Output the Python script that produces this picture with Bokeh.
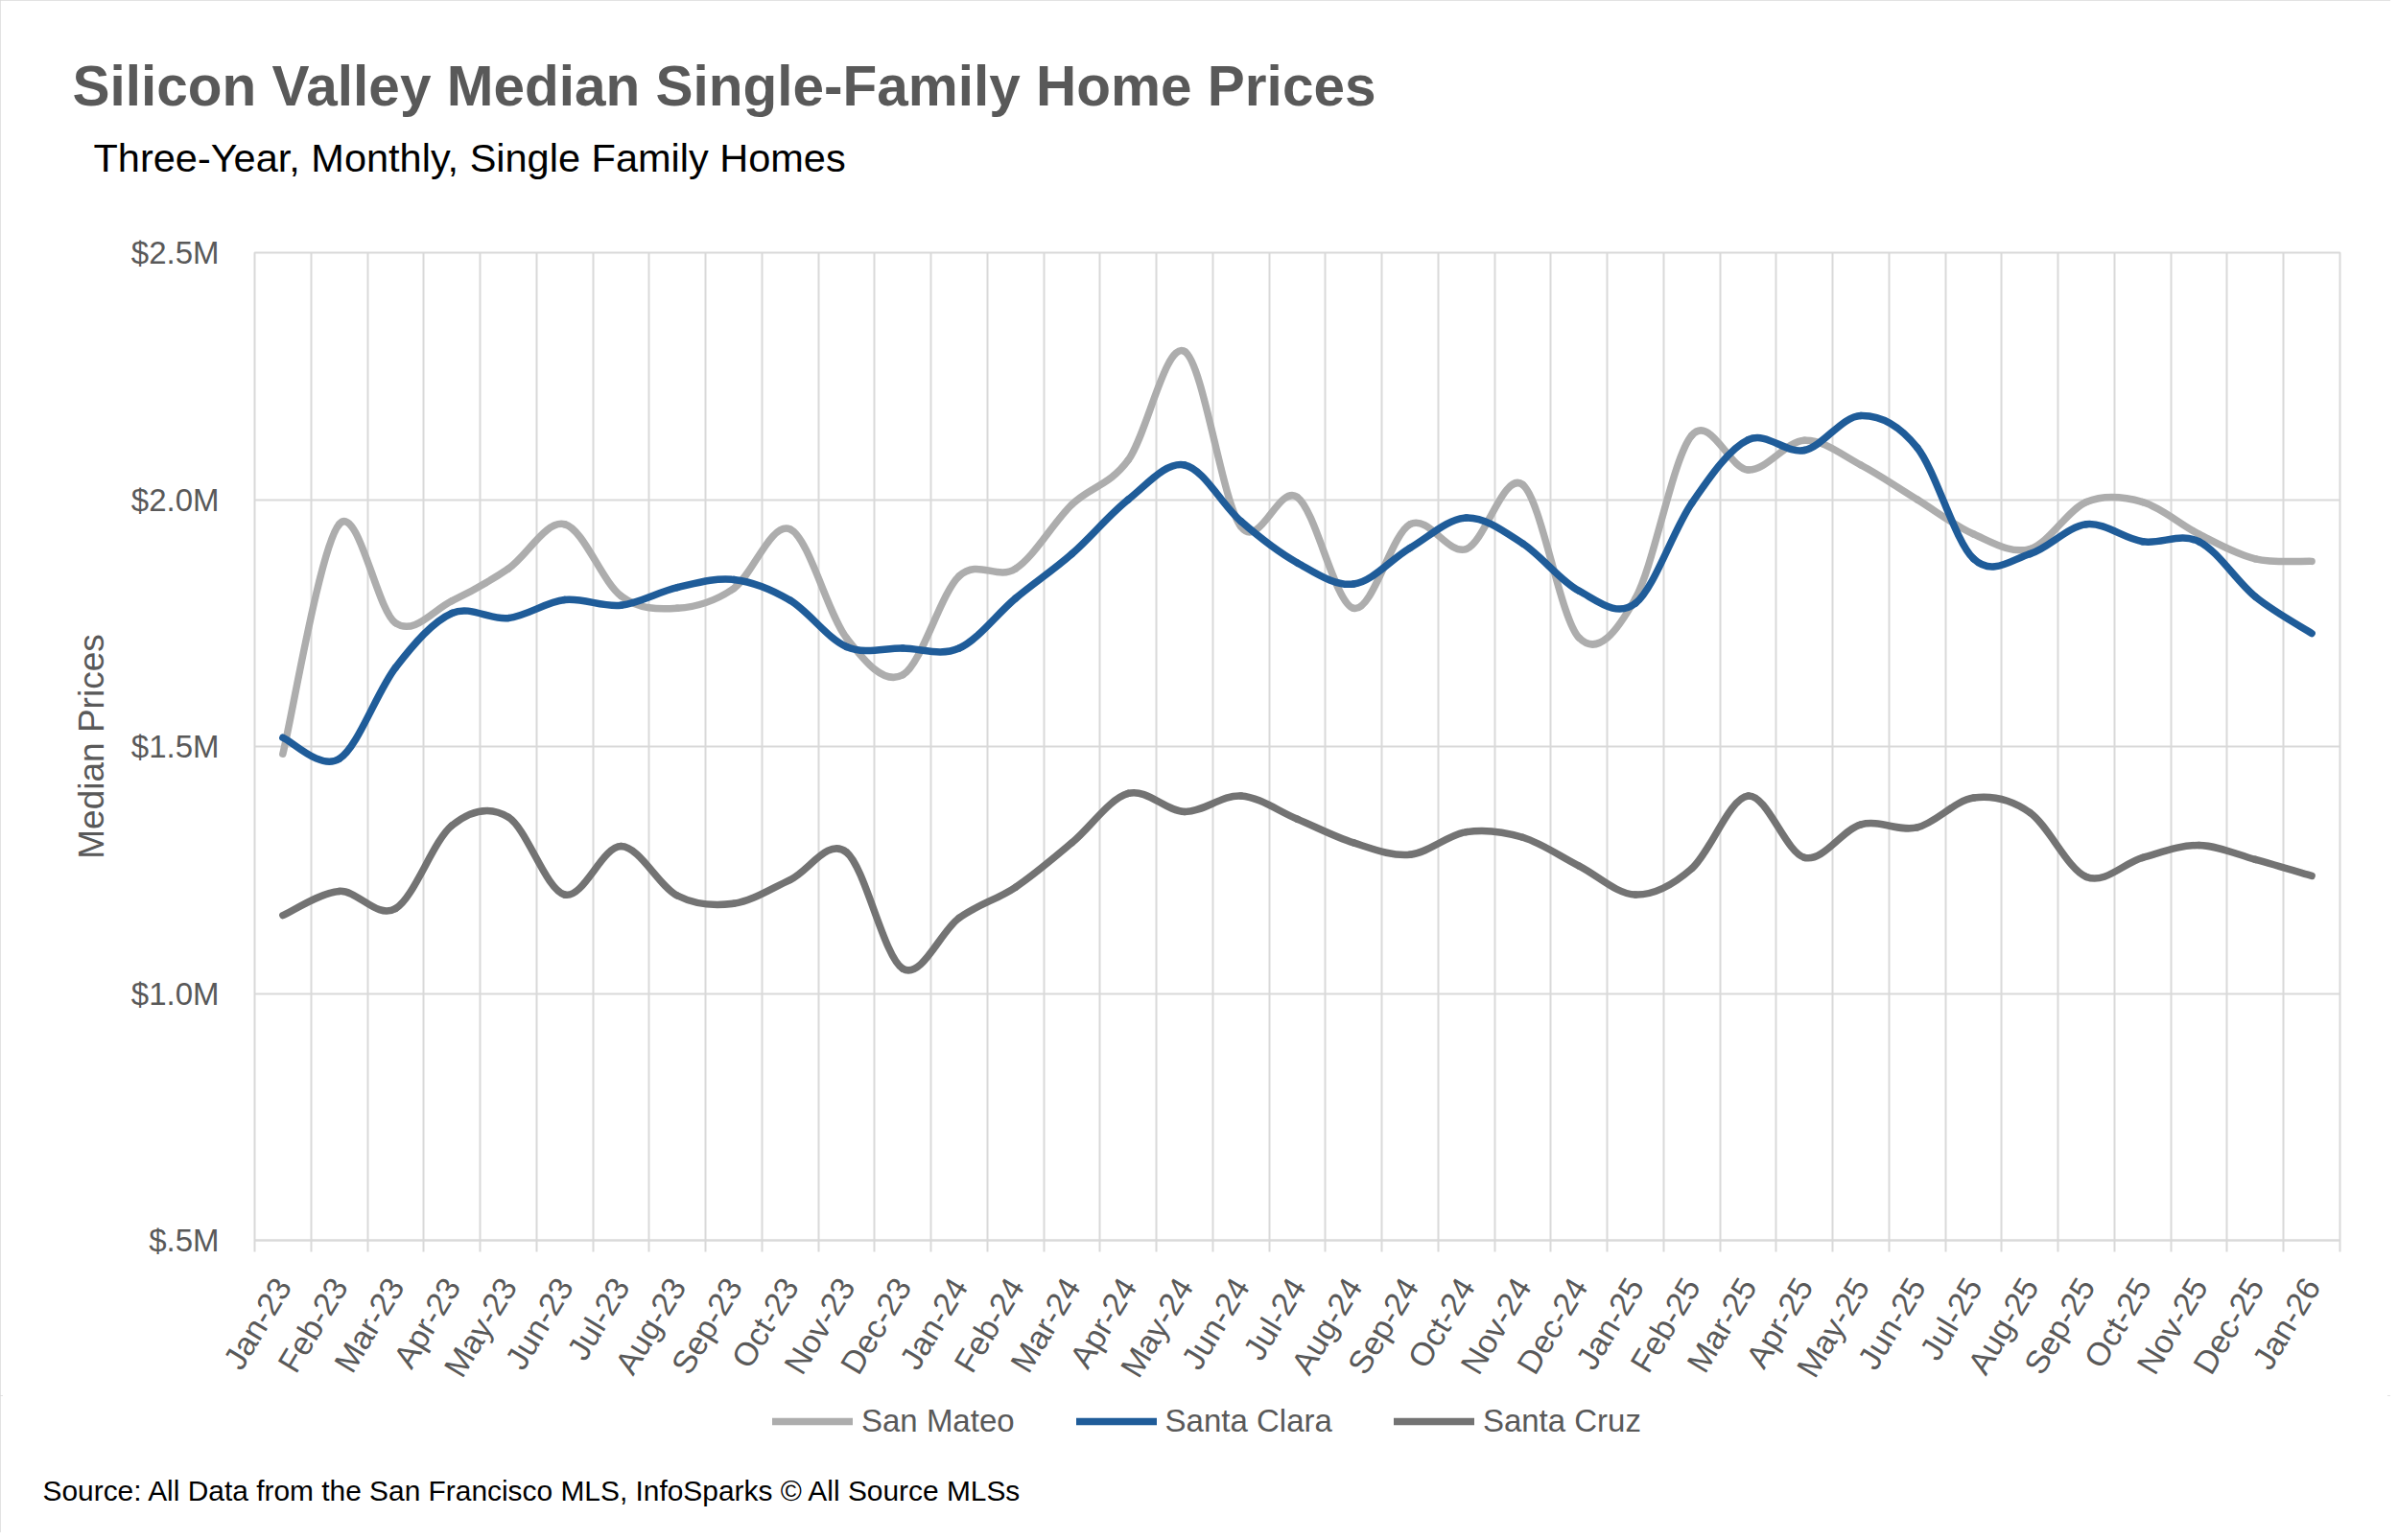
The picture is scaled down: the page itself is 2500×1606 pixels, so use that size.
import math
from bokeh.plotting import figure
from bokeh.layouts import column
from bokeh.models import (Range1d, FixedTicker, Legend, LegendItem, Title,
                          ColumnDataSource, CustomJSTickFormatter)
from bokeh.embed import file_html
from bokeh.resources import INLINE

months = ["Jan-23", "Feb-23", "Mar-23", "Apr-23", "May-23", "Jun-23", "Jul-23", "Aug-23",
          "Sep-23", "Oct-23", "Nov-23", "Dec-23", "Jan-24", "Feb-24", "Mar-24", "Apr-24",
          "May-24", "Jun-24", "Jul-24", "Aug-24", "Sep-24", "Oct-24", "Nov-24", "Dec-24",
          "Jan-25", "Feb-25", "Mar-25", "Apr-25", "May-25", "Jun-25", "Jul-25", "Aug-25",
          "Sep-25", "Oct-25", "Nov-25", "Dec-25", "Jan-26"]

# median prices in $M
san_mateo = [1.485, 1.95, 1.75, 1.795, 1.86, 1.95, 1.805, 1.78, 1.82, 1.94, 1.72, 1.645,
             1.845, 1.86, 1.99, 2.08, 2.30, 1.945, 2.005, 1.78, 1.95, 1.90, 2.03, 1.72,
             1.80, 2.13, 2.06, 2.12, 2.07, 2.00, 1.93, 1.90, 1.995, 1.995, 1.93, 1.88, 1.875]
santa_clara = [1.518, 1.475, 1.66, 1.77, 1.76, 1.797, 1.786, 1.822, 1.838, 1.796, 1.702, 1.699,
               1.699, 1.80, 1.89, 2.00, 2.07, 1.956, 1.872, 1.829, 1.902, 1.963, 1.911, 1.815,
               1.79, 1.993, 2.121, 2.10, 2.17, 2.105, 1.88, 1.89, 1.95, 1.915, 1.915, 1.803, 1.729]
santa_cruz = [1.158, 1.207, 1.172, 1.34, 1.357, 1.20, 1.298, 1.198, 1.182, 1.23, 1.286, 1.05,
              1.153, 1.215, 1.305, 1.405, 1.368, 1.40, 1.353, 1.305, 1.281, 1.327, 1.316, 1.258,
              1.20, 1.253, 1.40, 1.275, 1.342, 1.336, 1.396, 1.366, 1.236, 1.275, 1.30, 1.271, 1.238]

y_ticks = [0.5, 1.0, 1.5, 2.0, 2.5]
y_tick_labels = ["$.5M", "$1.0M", "$1.5M", "$2.0M", "$2.5M"]

series_names = ["San Mateo", "Santa Clara", "Santa Cruz"]
series_colors = ["#ADADAD", "#1F5C99", "#737373"]

title_text = "Silicon Valley Median Single-Family Home Prices"
subtitle_text = "Three-Year, Monthly, Single Family Homes"
source_text = "Source: All Data from the San Francisco MLS, InfoSparks \u00a9 All Source MLSs"

GRID = "#D9D9D9"
TXT = "#595959"
FONT = "Liberation Sans"


def smooth_source(vals):
    """Bezier control points (Excel-like smoothed line) built from the data values."""
    n = len(vals)
    xs = [i + 0.5 for i in range(n)]
    d = dict(x0=[], y0=[], x1=[], y1=[], cx0=[], cy0=[], cx1=[], cy1=[])
    for i in range(n - 1):
        a = max(i - 1, 0)
        b = min(i + 2, n - 1)
        d["x0"].append(xs[i]); d["y0"].append(vals[i])
        d["x1"].append(xs[i + 1]); d["y1"].append(vals[i + 1])
        d["cx0"].append(xs[i] + (xs[i + 1] - xs[a]) / 6.0)
        d["cy0"].append(vals[i] + (vals[i + 1] - vals[a]) / 6.0)
        d["cx1"].append(xs[i + 1] - (xs[b] - xs[i]) / 6.0)
        d["cy1"].append(vals[i + 1] - (vals[b] - vals[i]) / 6.0)
    return ColumnDataSource(d)


W = 2492
MAIN_H = 1455        # chart block incl. titles
BOT_H = 143          # legend + source block
FL, FR = 265, 2439   # frame left/right in canvas px
FT = 263
MB_BOT = 160

# ---------------- chart block ----------------
p = figure(width=W, height=MAIN_H, x_range=Range1d(0, len(months)), y_range=Range1d(0.5, 2.5),
           output_backend="svg", toolbar_location=None,
           min_border_left=FL, min_border_right=W - FR, min_border_top=FT,
           min_border_bottom=MB_BOT)
p.background_fill_color = "white"
p.border_fill_color = "white"
p.outline_line_color = GRID
p.outline_line_width = 2
p.title.text = ""

p.xgrid.ticker = FixedTicker(ticks=list(range(len(months) + 1)))
p.ygrid.ticker = FixedTicker(ticks=y_ticks)
for g in (p.xgrid, p.ygrid):
    g.grid_line_color = GRID
    g.grid_line_width = 2

xa = p.xaxis[0]
xa.ticker = FixedTicker(ticks=[i + 0.5 for i in range(len(months))],
                        minor_ticks=list(range(len(months) + 1)))
xa.formatter = CustomJSTickFormatter(args=dict(month_labels=months),
                                     code="return month_labels[Math.floor(tick)];")
xa.major_label_orientation = 1.03
xa.major_tick_line_color = None
xa.major_tick_in = 0
xa.major_tick_out = 0
xa.minor_tick_in = 0
xa.minor_tick_out = 12
xa.minor_tick_line_color = GRID
xa.minor_tick_line_width = 2
xa.axis_line_color = GRID
xa.axis_line_width = 2
xa.major_label_standoff = 30
xa.major_label_text_font = FONT
xa.major_label_text_font_size = "34px"
xa.major_label_text_color = TXT

ya = p.yaxis[0]
ya.ticker = FixedTicker(ticks=y_ticks)
ya.formatter = CustomJSTickFormatter(args=dict(tick_vals=y_ticks, tick_text=y_tick_labels),
                                     code="return tick_text[tick_vals.indexOf(tick)];")
ya.axis_line_color = None
ya.major_tick_line_color = None
ya.minor_tick_line_color = None
ya.major_tick_in = 0
ya.major_tick_out = 0
ya.major_label_standoff = 37
ya.major_label_text_font = FONT
ya.major_label_text_font_size = "33px"
ya.major_label_text_color = TXT
ya.axis_label = "Median Prices"
ya.axis_label_standoff = 18
ya.axis_label_text_font = FONT
ya.axis_label_text_font_size = "37px"
ya.axis_label_text_font_style = "normal"
ya.axis_label_text_color = TXT

for vals, col in zip([san_mateo, santa_clara, santa_cruz], series_colors):
    p.bezier(x0="x0", y0="y0", x1="x1", y1="y1", cx0="cx0", cy0="cy0", cx1="cx1", cy1="cy1",
             source=smooth_source(vals), line_color=col, line_width=7.5, line_cap="round",
             line_join="round")

# titles above the frame (first added sits nearest the frame);
# the first one is a white spacer that opens the gap between subtitle and plot
spacer = Title(text=".", text_font_size="10px", text_color="white", standoff=62)
subtitle = Title(text=subtitle_text, align="left", offset=97 - FL, standoff=8,
                 vertical_align="bottom", text_font=FONT, text_font_size="41.5px",
                 text_font_style="normal", text_color="black")
main_title = Title(text=title_text, align="left", offset=75 - FL, standoff=26,
                   vertical_align="bottom", text_font=FONT, text_font_size="58.5px",
                   text_font_style="bold", text_color=TXT)
p.add_layout(spacer, "above")
p.add_layout(subtitle, "above")
p.add_layout(main_title, "above")

# ---------------- legend + source block ----------------
bot = figure(width=W, height=BOT_H, x_range=Range1d(0, 1), y_range=Range1d(0, 1),
             output_backend="svg", toolbar_location=None, x_axis_type=None, y_axis_type=None,
             min_border_left=FL, min_border_right=W - FR, min_border_top=0, min_border_bottom=0)
bot.xgrid.visible = False
bot.ygrid.visible = False
bot.outline_line_color = None
bot.background_fill_color = "white"
bot.border_fill_color = "white"
bot.title.text = ""

# legend keys: renderers that carry only the series style (no visible data)
key_renderers = [bot.line(x=[math.nan], y=[math.nan], line_color=c, line_width=7.5,
                          line_cap="round") for c in series_colors]
legend = Legend(items=[LegendItem(label=n, renderers=[r]) for n, r in zip(series_names, key_renderers)],
                orientation="horizontal", location=(805 - FL, 6))
legend.glyph_width = 84
legend.glyph_height = 12
legend.label_standoff = 9
legend.spacing = 64
legend.padding = 0
legend.margin = 0
legend.border_line_color = None
legend.background_fill_alpha = 0
legend.label_text_font = FONT
legend.label_text_font_size = "33px"
legend.label_text_color = TXT
bot.add_layout(legend)

source_note = Title(text=source_text, align="left", offset=44 - FL, standoff=56,
                    vertical_align="bottom", text_font=FONT, text_font_size="29.9px",
                    text_font_style="normal", text_color="black")
bot.add_layout(source_note, "below")

layout = column(p, bot, spacing=0)
layout.styles = {"outline": "3px solid #D9D9D9", "outline-offset": "-3px"}

open("out.html", "w").write(file_html(layout, INLINE))
